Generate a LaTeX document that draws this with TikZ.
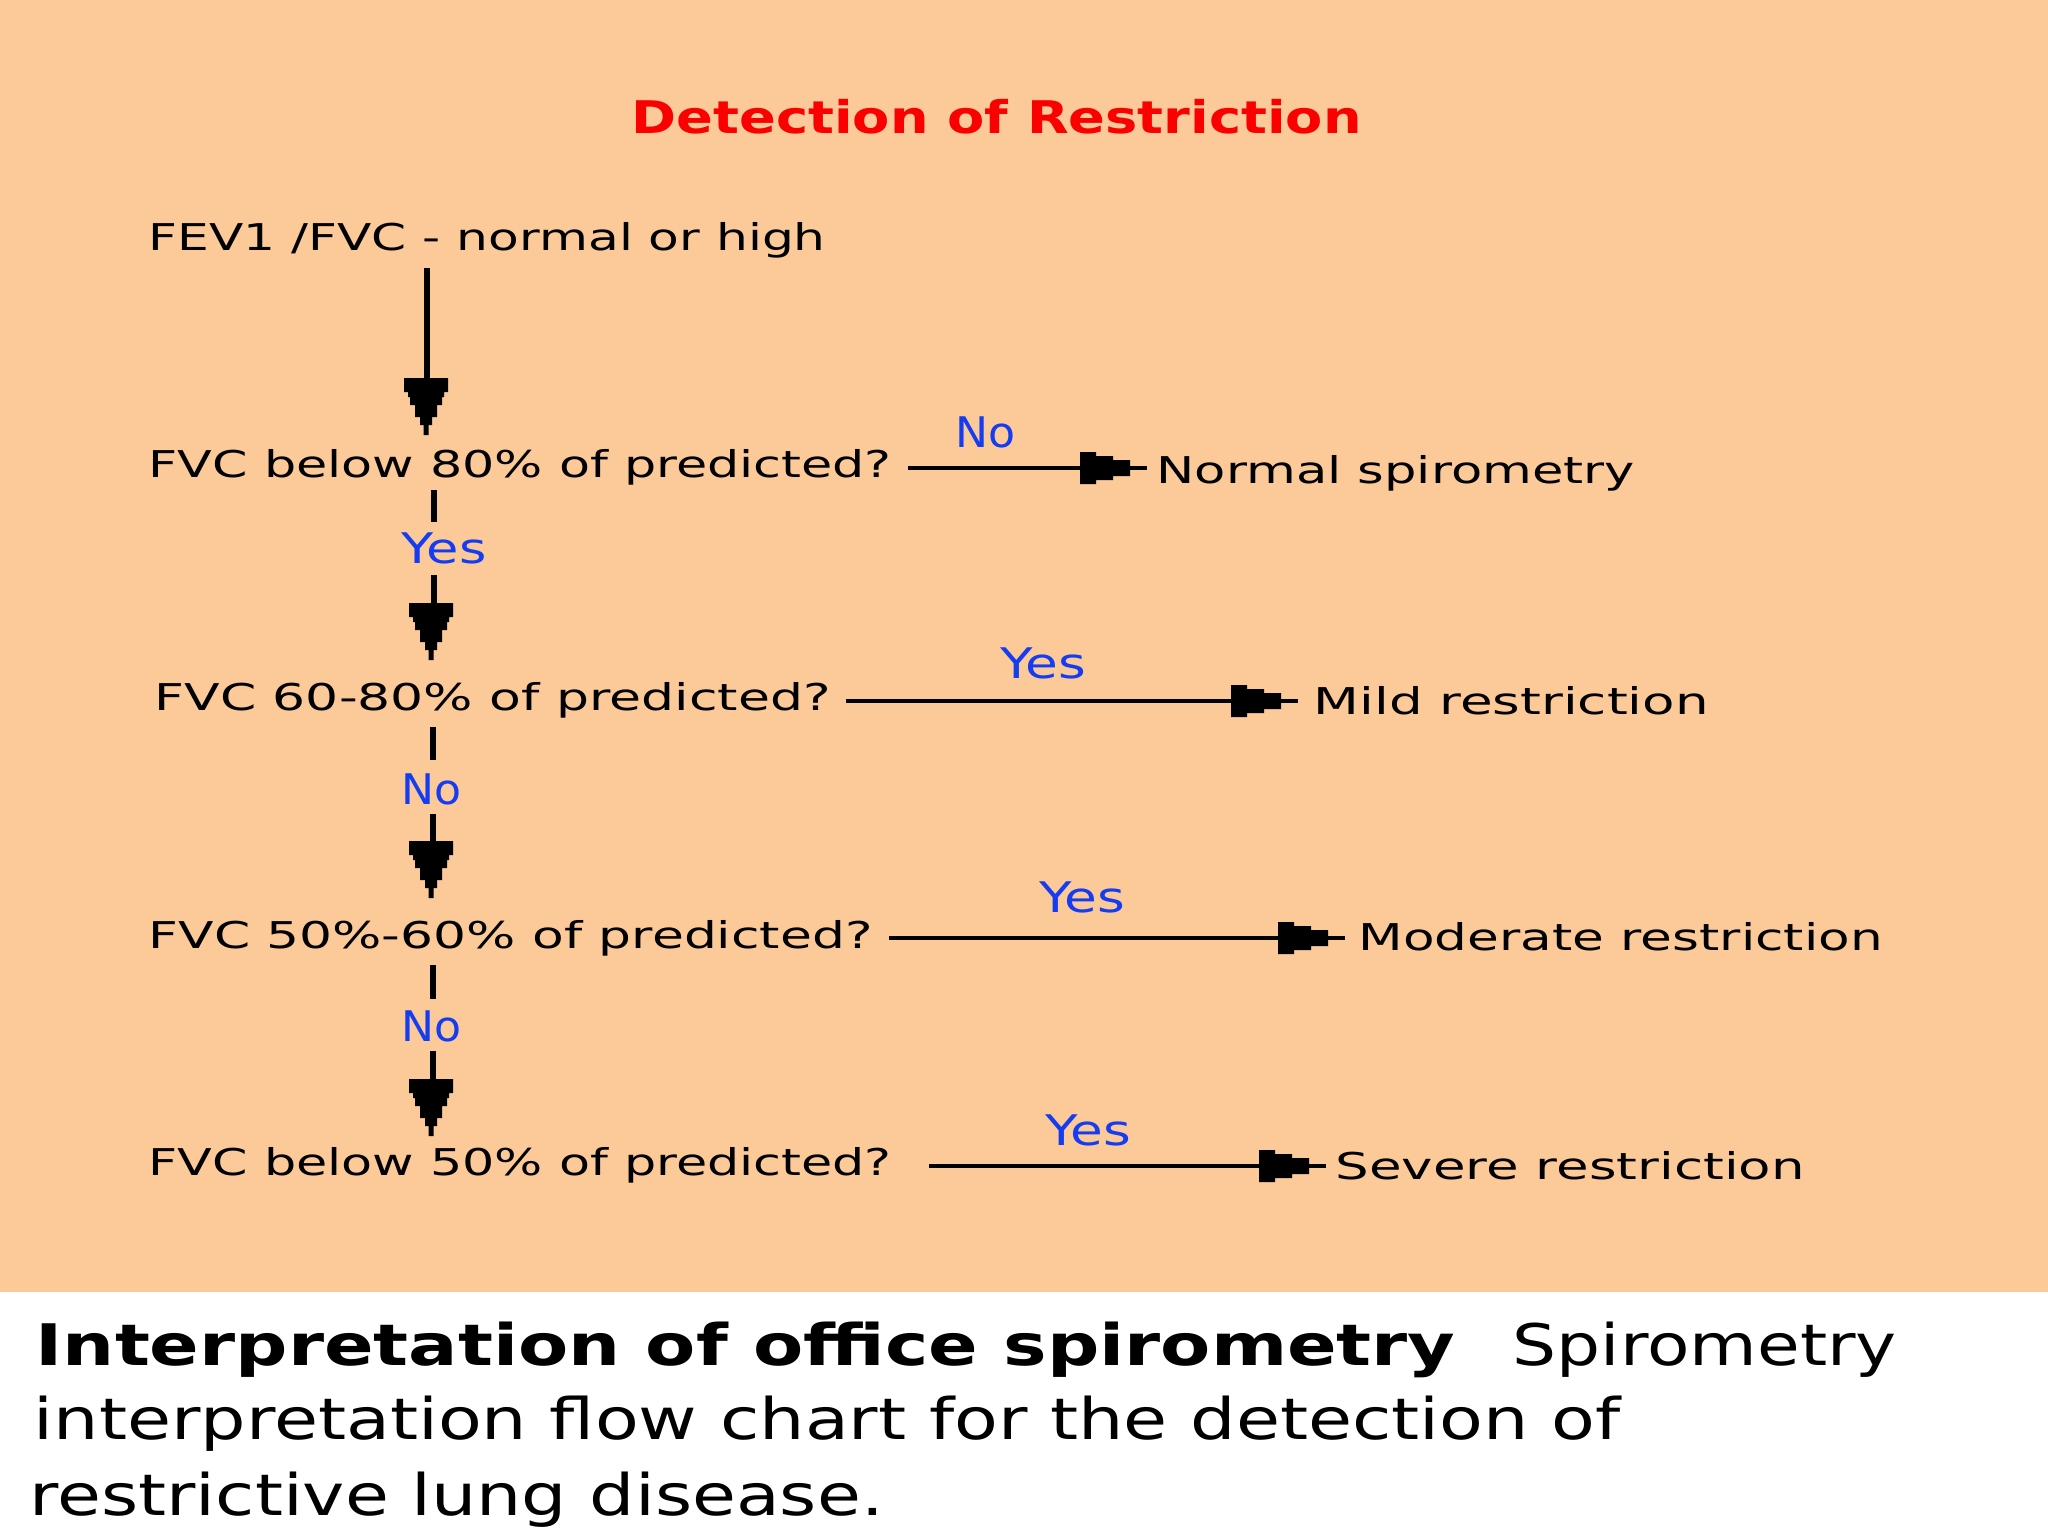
\documentclass[tikz,border=0pt]{standalone}
\usepackage{fontspec}
\setmainfont{DejaVu Sans}
\usepackage{graphicx}
\usetikzlibrary{calc}
\definecolor{peach}{RGB}{252,201,153}
\definecolor{lblue}{RGB}{20,60,240}
\definecolor{tred}{RGB}{250,0,0}
\newcommand{\fitw}[2]{\resizebox{#1}{\height}{#2}}
\begin{document}
\begin{tikzpicture}[x=0.1mm,y=-0.1mm,
  txt/.style={anchor=base west,inner sep=0pt,font=\fontsize{10.5}{12}\selectfont},
  lbl/.style={anchor=base,inner sep=0pt,text=lblue,font=\fontsize{12}{14}\selectfont},
  captxt/.style={anchor=base west,inner sep=0pt,font=\fontsize{16.3}{18}\selectfont},
  hl/.style={line width=0.4mm},
  vl/.style={line width=0.6mm},
  varrow/.pic={\fill (-22,0) -- (22,0) -- (22,14) -- (18,14) -- (18,19) -- (16,19) -- (16,27) -- (11,27) -- (11,39) -- (6,39) -- (6,47) -- (2.5,47) -- (2.5,57) -- (-2.5,57) -- (-2.5,47) -- (-6,47) -- (-6,39) -- (-11,39) -- (-11,27) -- (-16,27) -- (-16,19) -- (-18,19) -- (-18,14) -- (-22,14) -- cycle;},
  harrow/.pic={\fill (-50,-16) -- (-34,-16) -- (-34,-12) -- (-17,-12) -- (-17,-8) -- (0,-8) -- (0,8) -- (-17,8) -- (-17,12) -- (-34,12) -- (-34,16) -- (-50,16) -- cycle;}
]
\useasboundingbox (0,0) rectangle (2048,1536);
\fill[white] (0,0) rectangle (2048,1536);
\fill[peach] (0,0) rectangle (2048,1292);

% title
\node[anchor=base west,inner sep=0pt,text=tred,font=\bfseries\fontsize{12.8}{14}\selectfont] (title) at (631,133) {\fitw{73mm}{Detection of Restriction}};

% flow texts
\node[txt] (start) at (148,250) {\fitw{67.7mm}{FEV1 /FVC - normal or high}};
\node[txt] (q1) at (148,477) {\fitw{74.3mm}{FVC below 80\% of predicted?}};
\node[txt] (a1) at (1156,483) {\fitw{47.8mm}{Normal spirometry}};
\node[txt] (q2) at (154,710) {\fitw{67.6mm}{FVC 60-80\% of predicted?}};
\node[txt] (a2) at (1313,714) {\fitw{39.5mm}{Mild restriction}};
\node[txt] (q3) at (148,948) {\fitw{72.4mm}{FVC 50\%-60\% of predicted?}};
\node[txt] (a3) at (1358,950) {\fitw{52.4mm}{Moderate restriction}};
\node[txt] (q4) at (148,1175) {\fitw{74.3mm}{FVC below 50\% of predicted?}};
\node[txt] (a4) at (1335,1179) {\fitw{46.9mm}{Severe restriction}};

% labels
\node[lbl] (no1) at (985,447) {\fitw{6mm}{No}};
\node[lbl] (yes1) at (444,563) {\fitw{8.5mm}{Yes}};
\node[lbl] (yes2) at (1043,678) {\fitw{8.6mm}{Yes}};
\node[lbl] (no2) at (431,804) {\fitw{6mm}{No}};
\node[lbl] (yes3) at (1082,912) {\fitw{8.6mm}{Yes}};
\node[lbl] (no3) at (431,1041) {\fitw{6mm}{No}};
\node[lbl] (yes4) at (1088,1145) {\fitw{8.6mm}{Yes}};

% connector end points
\coordinate (v1a) at (427,268); \coordinate (v1b) at (427,395);
\coordinate (v2a) at (434,490); \coordinate (v2b) at (434,522);
\coordinate (v2c) at (434,575); \coordinate (v2d) at (434,612);
\coordinate (v3a) at (433,727); \coordinate (v3b) at (433,760);
\coordinate (v3c) at (433,814); \coordinate (v3d) at (433,850);
\coordinate (v4a) at (433,965); \coordinate (v4b) at (433,999);
\coordinate (v4c) at (433,1051); \coordinate (v4d) at (433,1088);
\coordinate (h1a) at (908,468); \coordinate (h1b) at (1147,468);
\coordinate (h2a) at (846,701); \coordinate (h2b) at (1298,701);
\coordinate (h3a) at (889,938); \coordinate (h3b) at (1345,938);
\coordinate (h4a) at (929,1166); \coordinate (h4b) at (1326,1166);

% vertical connectors
\draw[vl] (v1a) -- (v1b);
\pic at (426,378) {varrow};
\draw[vl] (v2a) -- (v2b);
\draw[vl] (v2c) -- (v2d);
\pic at (431,603) {varrow};
\draw[vl] (v3a) -- (v3b);
\draw[vl] (v3c) -- (v3d);
\pic at (431,841) {varrow};
\draw[vl] (v4a) -- (v4b);
\draw[vl] (v4c) -- (v4d);
\pic at (431,1079) {varrow};

% horizontal connectors
\draw[hl] (h1a) -- (h1b);
\pic at ($(h1b)+(-17,0)$) {harrow};
\draw[hl] (h2a) -- (h2b);
\pic at ($(h2b)+(-17,0)$) {harrow};
\draw[hl] (h3a) -- (h3b);
\pic at ($(h3b)+(-17,0)$) {harrow};
\draw[hl] (h4a) -- (h4b);
\pic at ($(h4b)+(-17,0)$) {harrow};

% caption
\node[captxt,font=\bfseries\fontsize{16.3}{18}\selectfont] (capb) at (35,1365) {\fitw{142mm}{Interpretation of office spirometry}};
\node[captxt] (capc) at (1512,1365) {\fitw{38.4mm}{Spirometry}};
\node[captxt] (cap2) at (33,1439) {\fitw{158.7mm}{interpretation flow chart for the detection of}};
\node[captxt] (cap3) at (29,1515) {\fitw{85.4mm}{restrictive lung disease.}};
\end{tikzpicture}
\end{document}
